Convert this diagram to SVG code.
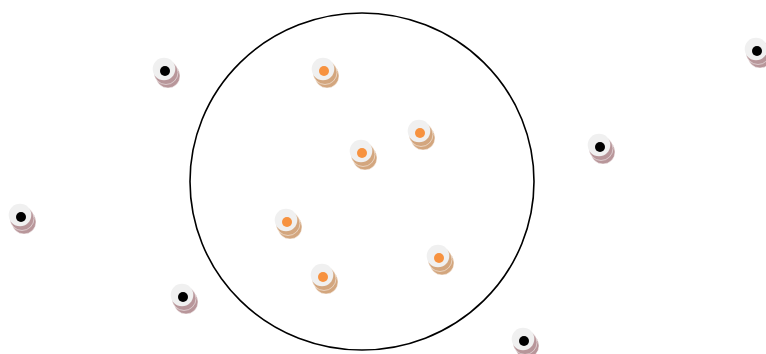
<svg xmlns="http://www.w3.org/2000/svg" width="766" height="354" viewBox="0 0 766 354">
<style>
.face{fill:#f0f0f0}
.sb{fill:#b8969a;stroke:#ffffff;stroke-width:0.5}
.so{fill:#d3a67e;stroke:#ffffff;stroke-width:0.5}
.db{fill:#000000}
.do{fill:#f7923f}
.ring{fill:none;stroke:#000000;stroke-width:1.6}
</style>
<defs>
<g id="nb">
<circle class="sb" cx="4" cy="7" r="12"/>
<circle class="sb" cx="2" cy="3.5" r="12"/>
<circle class="face" cx="0" cy="0" r="11.3"/>
<circle class="db" cx="1" cy="2" r="5"/>
</g>
<g id="no">
<circle class="so" cx="4" cy="7" r="12"/>
<circle class="so" cx="2" cy="3.5" r="12"/>
<circle class="face" cx="0" cy="0" r="11.3"/>
<circle class="do" cx="1" cy="2" r="5"/>
</g>
</defs>
<g id="area"><ellipse class="ring" cx="362" cy="181.5" rx="172" ry="168.5"/></g>
<g id="connectors"></g>
<g id="b1"><use href="#nb" x="164" y="69"/></g>
<g id="b2"><use href="#nb" x="756" y="49"/></g>
<g id="b3"><use href="#nb" x="599" y="145"/></g>
<g id="b4"><use href="#nb" x="20" y="215"/></g>
<g id="b5"><use href="#nb" x="182" y="295"/></g>
<g id="b6"><use href="#nb" x="523" y="339"/></g>
<g id="o1"><use href="#no" x="323" y="69"/></g>
<g id="o2"><use href="#no" x="419" y="131"/></g>
<g id="o3"><use href="#no" x="361" y="151"/></g>
<g id="o4"><use href="#no" x="286" y="220"/></g>
<g id="o5"><use href="#no" x="322" y="275"/></g>
<g id="o6"><use href="#no" x="438" y="256"/></g>
</svg>
